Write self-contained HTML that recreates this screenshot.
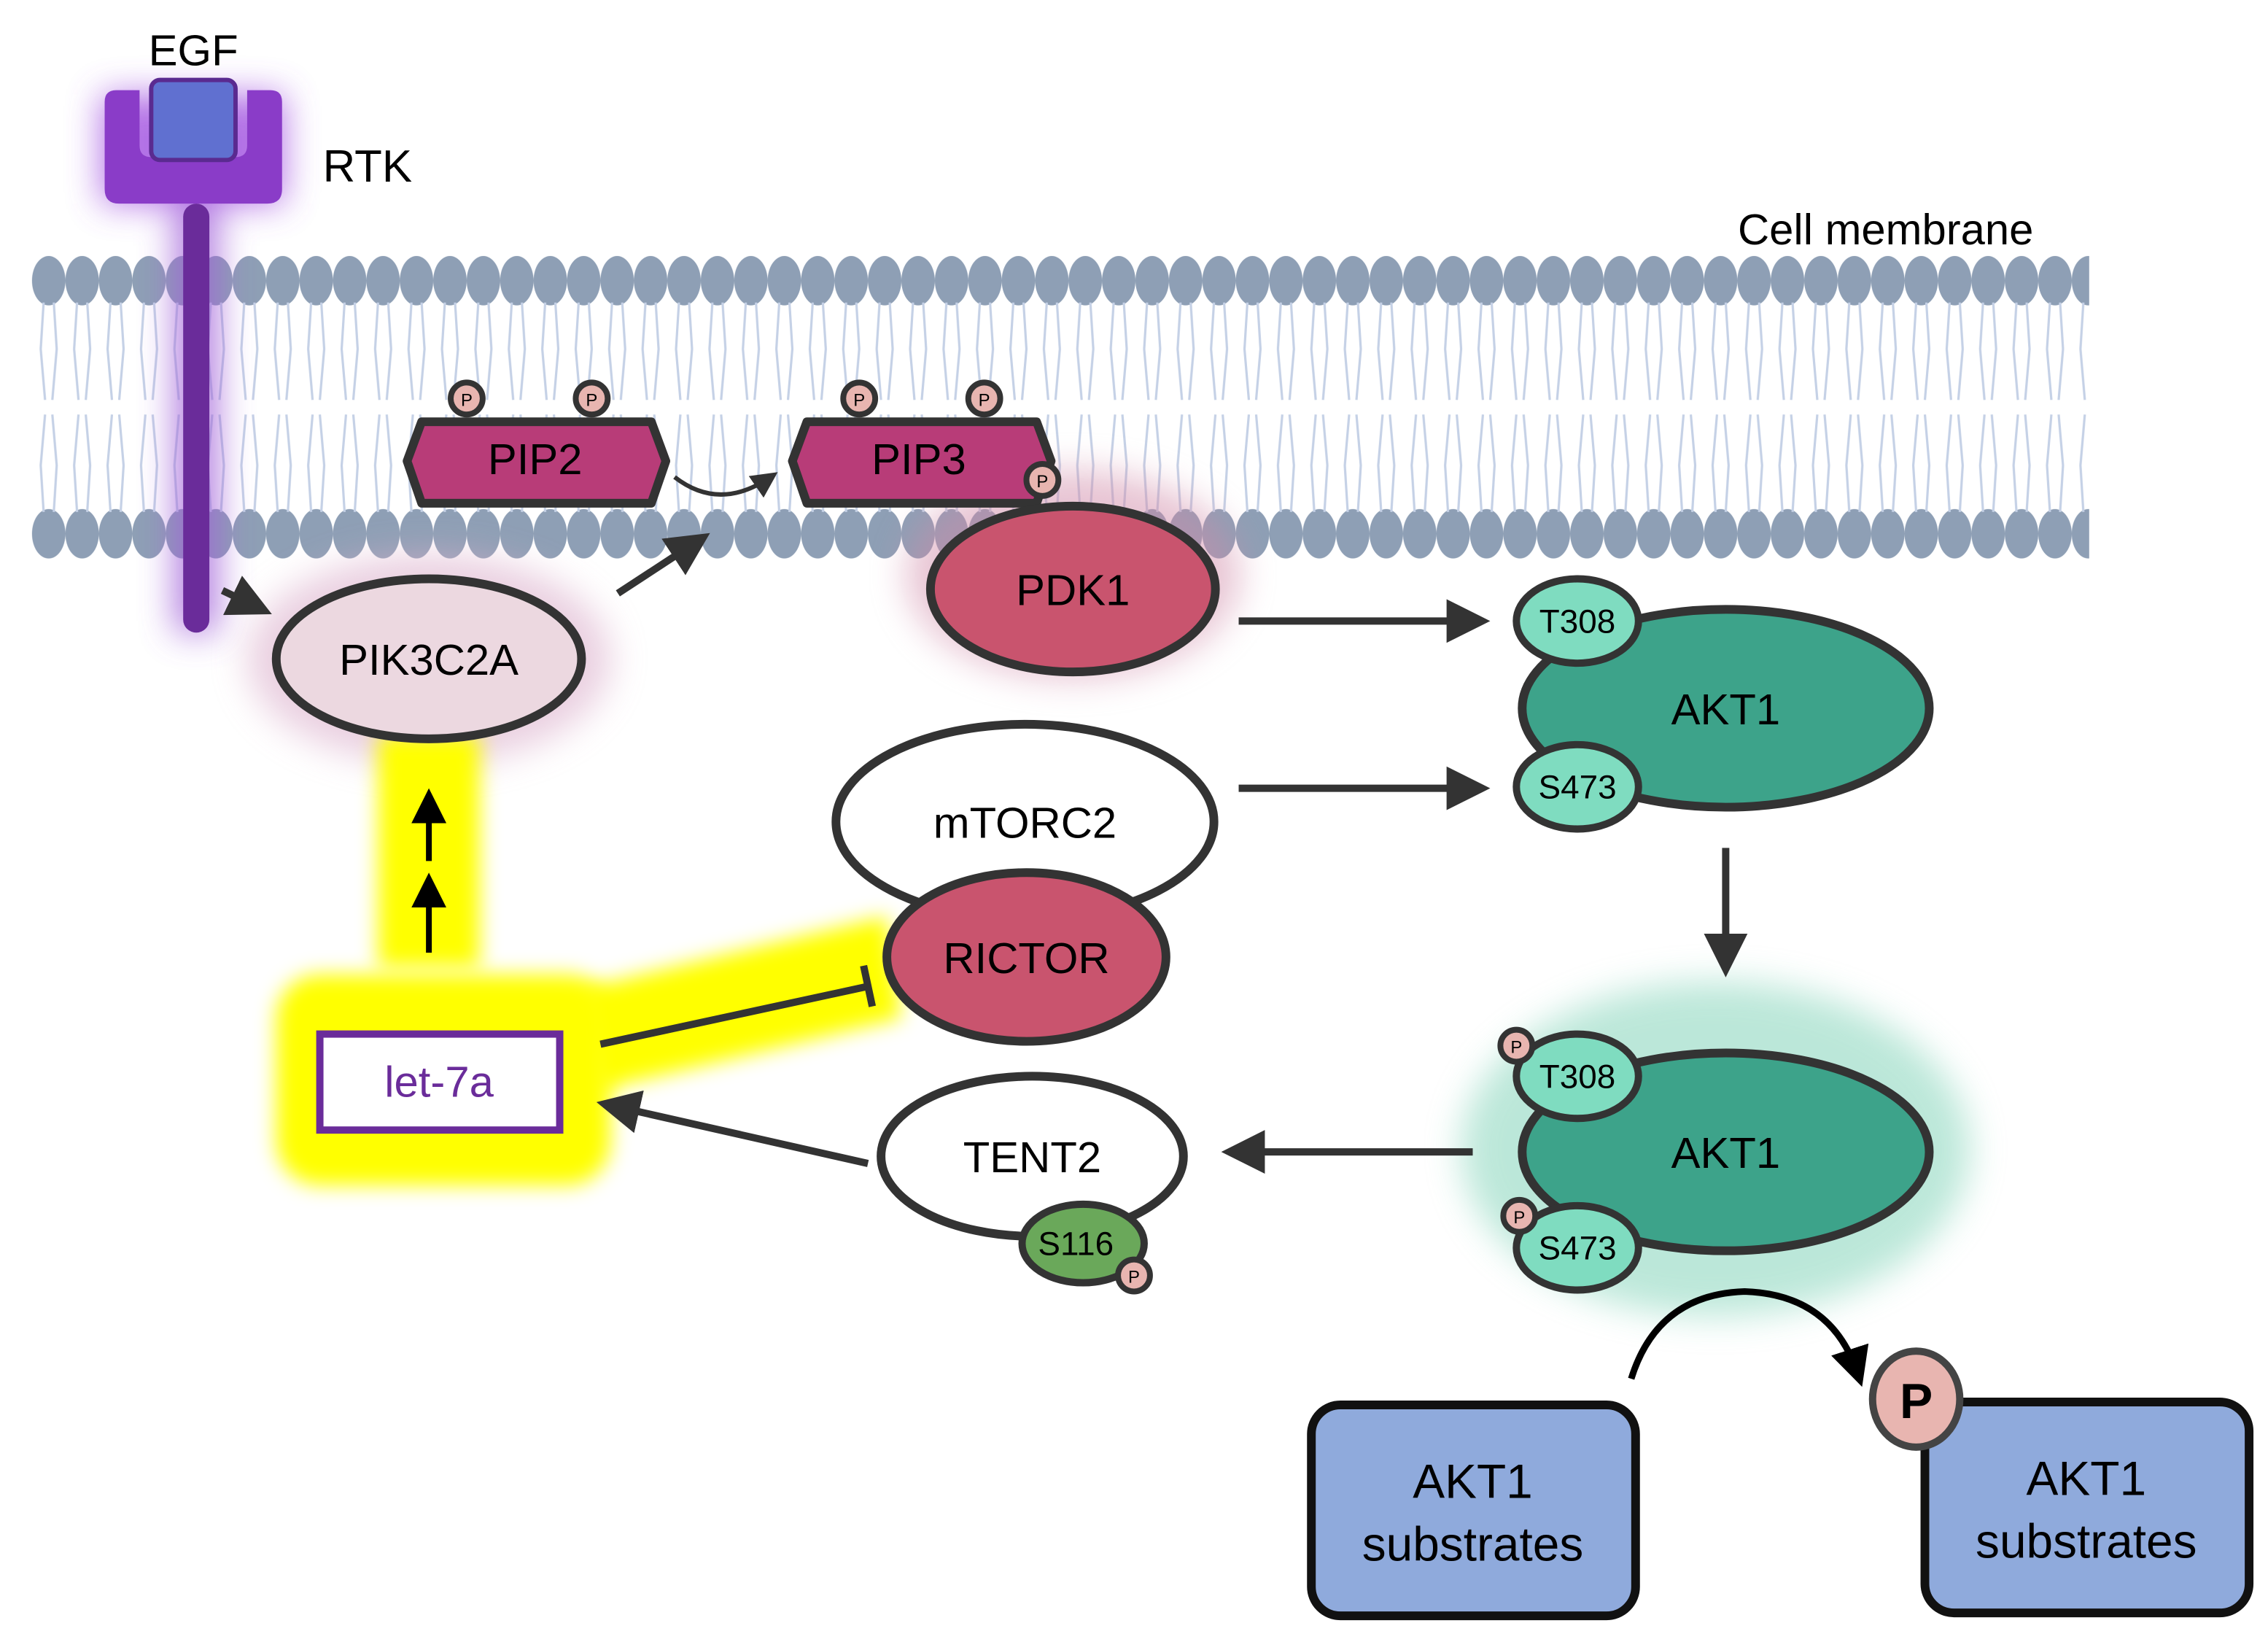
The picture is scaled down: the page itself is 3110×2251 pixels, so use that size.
<!DOCTYPE html>
<html><head><meta charset="utf-8"><style>html,body{margin:0;padding:0;background:#fff}svg{display:block}</style></head>
<body>
<svg width="3110" height="2251" viewBox="0 0 1560 1129" preserveAspectRatio="none" xmlns="http://www.w3.org/2000/svg" font-family="Liberation Sans, Arial, sans-serif">
<defs>
<filter id="blur" x="-50%" y="-50%" width="200%" height="200%"><feGaussianBlur stdDeviation="12"/></filter>
<filter id="blur2" x="-50%" y="-50%" width="200%" height="200%"><feGaussianBlur stdDeviation="7"/></filter>
<pattern id="mem" x="22" y="0" width="23" height="1125" patternUnits="userSpaceOnUse">
<ellipse cx="11.5" cy="193" rx="11.5" ry="17" fill="#8e9fb5"/>
<ellipse cx="11.5" cy="367" rx="11.5" ry="17" fill="#8e9fb5"/>
<path d="M8 208 L6 240 L9 275 M15 208 L17 240 L14 275 M8 352 L6 320 L9 285 M15 352 L17 320 L14 285" stroke="#c5d1e6" stroke-width="1.6" fill="none"/>
</pattern>
<marker id="ah" markerWidth="6" markerHeight="6" refX="4" refY="3" orient="auto" markerUnits="strokeWidth"><path d="M0,0 L6,3 L0,6 z" fill="#333"/></marker>
<marker id="ahb" markerWidth="6" markerHeight="6" refX="4" refY="3" orient="auto" markerUnits="strokeWidth"><path d="M0,0 L6,3 L0,6 z" fill="#000"/></marker>
</defs>
<rect width="1560" height="1129" fill="#fff"/>
<rect x="22" y="170" width="1415" height="215" fill="url(#mem)"/>

<g filter="url(#blur)" opacity="0.8"><path d="M70 65 L195 65 L195 140 L70 140 Z" fill="#a050e0"/><rect x="120" y="140" width="30" height="295" fill="#a060d8"/></g>
<rect x="126" y="140" width="18" height="295" rx="9" fill="#6a2c9a"/>
<path d="M72 70 Q72 62 80 62 L96 62 L96 100 Q96 108 104 108 L162 108 Q170 108 170 100 L170 62 L186 62 Q194 62 194 70 L194 130 Q194 140 184 140 L82 140 Q72 140 72 130 Z" fill="#8a3cc8"/>
<rect x="104" y="55" width="58" height="55" rx="6" fill="#6070d0" stroke="#5a2a90" stroke-width="3"/>
<text x="133" y="45" font-size="30" text-anchor="middle">EGF</text>
<text x="222" y="125" font-size="31">RTK</text>
<text x="1297" y="168" font-size="30" text-anchor="middle">Cell membrane</text>

<ellipse cx="295" cy="453" rx="125" ry="72" fill="#dcb0cc" filter="url(#blur)" opacity="0.6"/>
<ellipse cx="738" cy="395" rx="115" ry="72" fill="#d08aa8" filter="url(#blur)" opacity="0.5"/>
<rect x="260" y="505" width="70" height="160" fill="#ffff00" filter="url(#blur2)"/>
<rect x="190" y="670" width="230" height="145" rx="30" fill="#ffff00" filter="url(#blur2)"/>
<path d="M400 680 L610 630 L620 700 L410 750 Z" fill="#ffff00" filter="url(#blur2)"/>
<ellipse cx="1180" cy="790" rx="175" ry="115" fill="#8fd8c0" filter="url(#blur)" opacity="0.6"/>

<path d="M290 290 L448 290 L458 317 L448 346 L290 346 L280 317 Z" fill="#b83c78" stroke="#333" stroke-width="6" stroke-linejoin="round"/>
<text x="368" y="326" font-size="30" text-anchor="middle">PIP2</text>
<circle cx="321" cy="274" r="11" fill="#e8b5b0" stroke="#333" stroke-width="4"/><text x="321" y="279" font-size="12" text-anchor="middle">P</text>
<circle cx="407" cy="274" r="11" fill="#e8b5b0" stroke="#333" stroke-width="4"/><text x="407" y="279" font-size="12" text-anchor="middle">P</text>
<path d="M555 290 L713 290 L723 317 L713 346 L555 346 L545 317 Z" fill="#b83c78" stroke="#333" stroke-width="6" stroke-linejoin="round"/>
<text x="632" y="326" font-size="30" text-anchor="middle">PIP3</text>
<circle cx="591" cy="274" r="11" fill="#e8b5b0" stroke="#333" stroke-width="4"/><text x="591" y="279" font-size="12" text-anchor="middle">P</text>
<circle cx="677" cy="274" r="11" fill="#e8b5b0" stroke="#333" stroke-width="4"/><text x="677" y="279" font-size="12" text-anchor="middle">P</text>
<circle cx="717" cy="330" r="11" fill="#e8b5b0" stroke="#333" stroke-width="4"/><text x="717" y="335" font-size="12" text-anchor="middle">P</text>
<path d="M464 328 Q495 352 530 328" fill="none" stroke="#333" stroke-width="3" marker-end="url(#ah)"/>

<line x1="153" y1="406" x2="178" y2="418" stroke="#333" stroke-width="5" marker-end="url(#ah)"/>
<line x1="425" y1="408" x2="480" y2="372" stroke="#333" stroke-width="5" marker-end="url(#ah)"/>
<line x1="852" y1="427" x2="1015" y2="427" stroke="#333" stroke-width="5" marker-end="url(#ah)"/>
<line x1="852" y1="542" x2="1015" y2="542" stroke="#333" stroke-width="5" marker-end="url(#ah)"/>
<line x1="1187" y1="583" x2="1187" y2="662" stroke="#333" stroke-width="5" marker-end="url(#ah)"/>
<line x1="1013" y1="792" x2="850" y2="792" stroke="#333" stroke-width="5" marker-end="url(#ah)"/>
<line x1="597" y1="800" x2="420" y2="760" stroke="#333" stroke-width="5" marker-end="url(#ah)"/>
<line x1="413" y1="718" x2="598" y2="678" stroke="#333" stroke-width="5"/>
<line x1="594" y1="664" x2="600" y2="692" stroke="#333" stroke-width="5"/>
<line x1="295" y1="655" x2="295" y2="608" stroke="#000" stroke-width="4" marker-end="url(#ahb)"/>
<line x1="295" y1="592" x2="295" y2="550" stroke="#000" stroke-width="4" marker-end="url(#ahb)"/>
<path d="M1122 948 Q1140 890 1200 888 Q1260 890 1278 945" fill="none" stroke="#000" stroke-width="4.5" marker-end="url(#ahb)"/>

<ellipse cx="295" cy="453" rx="105" ry="55" fill="#ecd8e0" stroke="#333" stroke-width="6"/>
<text x="295" y="464" font-size="30" text-anchor="middle">PIK3C2A</text>
<ellipse cx="738" cy="405" rx="98" ry="57" fill="#c9546e" stroke="#333" stroke-width="6"/>
<text x="738" y="416" font-size="30" text-anchor="middle">PDK1</text>
<ellipse cx="1187" cy="487" rx="140" ry="68" fill="#3da38a" stroke="#333" stroke-width="6"/>
<text x="1187" y="498" font-size="30" text-anchor="middle">AKT1</text>
<ellipse cx="1085" cy="427" rx="42" ry="29" fill="#7fdcc0" stroke="#333" stroke-width="5"/>
<text x="1085" y="435" font-size="23" text-anchor="middle">T308</text>
<ellipse cx="1085" cy="541" rx="42" ry="29" fill="#7fdcc0" stroke="#333" stroke-width="5"/>
<text x="1085" y="549" font-size="23" text-anchor="middle">S473</text>
<ellipse cx="705" cy="565" rx="130" ry="67" fill="#fff" stroke="#333" stroke-width="6"/>
<text x="705" y="576" font-size="30" text-anchor="middle">mTORC2</text>
<ellipse cx="706" cy="658" rx="96" ry="58" fill="#c9546e" stroke="#333" stroke-width="6"/>
<text x="706" y="669" font-size="30" text-anchor="middle">RICTOR</text>
<ellipse cx="1187" cy="792" rx="140" ry="68" fill="#3da38a" stroke="#333" stroke-width="6"/>
<text x="1187" y="803" font-size="30" text-anchor="middle">AKT1</text>
<ellipse cx="1085" cy="740" rx="42" ry="29" fill="#7fdcc0" stroke="#333" stroke-width="5"/>
<text x="1085" y="748" font-size="23" text-anchor="middle">T308</text>
<ellipse cx="1085" cy="858" rx="42" ry="29" fill="#7fdcc0" stroke="#333" stroke-width="5"/>
<text x="1085" y="866" font-size="23" text-anchor="middle">S473</text>
<circle cx="1043" cy="719" r="11" fill="#e8b5b0" stroke="#333" stroke-width="4"/><text x="1043" y="724" font-size="12" text-anchor="middle">P</text>
<circle cx="1045" cy="836" r="11" fill="#e8b5b0" stroke="#333" stroke-width="4"/><text x="1045" y="841" font-size="12" text-anchor="middle">P</text>
<ellipse cx="710" cy="795" rx="104" ry="55" fill="#fff" stroke="#333" stroke-width="6"/>
<text x="710" y="806" font-size="30" text-anchor="middle">TENT2</text>
<ellipse cx="745" cy="855" rx="42" ry="27" fill="#6aa85a" stroke="#333" stroke-width="5"/>
<text x="740" y="863" font-size="23" text-anchor="middle">S116</text>
<circle cx="780" cy="877" r="11" fill="#e8b5b0" stroke="#333" stroke-width="4"/><text x="780" y="882" font-size="12" text-anchor="middle">P</text>
<rect x="220" y="711" width="165" height="66" fill="#fff" stroke="#6a2c9a" stroke-width="5"/>
<text x="302" y="754" font-size="30" text-anchor="middle" fill="#6a2c9a">let-7a</text>
<rect x="902" y="966" width="223" height="145" rx="20" fill="#8faadc" stroke="#111" stroke-width="6"/>
<text x="1013" y="1030" font-size="33" text-anchor="middle">AKT1</text>
<text x="1013" y="1073" font-size="33" text-anchor="middle">substrates</text>
<rect x="1324" y="964" width="223" height="145" rx="20" fill="#8faadc" stroke="#111" stroke-width="6"/>
<text x="1435" y="1028" font-size="33" text-anchor="middle">AKT1</text>
<text x="1435" y="1071" font-size="33" text-anchor="middle">substrates</text>
<ellipse cx="1318" cy="962" rx="30" ry="33" fill="#e8b5b0" stroke="#444" stroke-width="5"/>
<text x="1318" y="975" font-size="34" font-weight="bold" text-anchor="middle">P</text>
</svg>
</body></html>
